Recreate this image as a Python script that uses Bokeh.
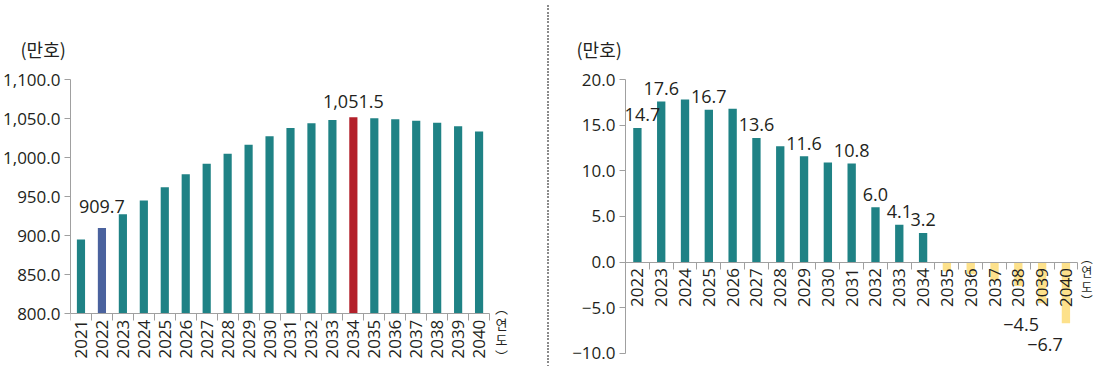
import math
from bokeh.plotting import figure
from bokeh.models import (FixedTicker, Range1d, Label, LabelSet, Title, Div, ColumnDataSource)
from bokeh.layouts import row
from bokeh.embed import file_html
from bokeh.resources import INLINE
from bokeh.core.properties import value

# ---------------- data ----------------
years_total = list(range(2021, 2041))
households = [895.0, 909.7, 927.3, 945.1, 961.8, 978.5, 992.1, 1004.8, 1016.4, 1027.2,
              1038.0, 1044.0, 1048.1, 1051.5, 1050.5, 1049.2, 1047.2, 1044.6, 1040.1, 1033.4]
left_label_years = [2022, 2034]

years_change = list(range(2022, 2041))
change = [14.7, 17.6, 17.8, 16.7, 16.8, 13.6, 12.7, 11.6, 10.9, 10.8,
          6.0, 4.1, 3.2, -1.0, -1.3, -2.0, -2.6, -4.5, -6.7]
right_label_years = [2022, 2023, 2025, 2027, 2029, 2031, 2032, 2033, 2034, 2039, 2040]

left_ticks = [800, 850, 900, 950, 1000, 1050, 1100]
left_tick_labels = ["800.0", "850.0", "900.0", "950.0", "1,000.0", "1,050.0", "1,100.0"]
right_ticks = [-10, -5, 0, 5, 10, 15, 20]
right_tick_labels = ["\u221210.0", "\u22125.0", "0.0", "5.0", "10.0", "15.0", "20.0"]

unit_label = "(만호)"
year_label = "\ufe35\n연\n도\n\ufe36"   # "(연도)" set vertically

# ---------------- styles / layout ----------------
TEAL = "#1f8285"
BLUE = "#4a629e"
RED = "#b3202a"
YELLOW = "#fde18b"
AXIS = "#a0a0a0"
TXT = "#231f20"
NUMFONT = "Open Sans"
KFONT = "Noto Sans CJK KR"
highlight = {2022: BLUE, 2034: RED}
H = 364
BORDER_TOP = 79
BORDER_BOTTOM = 4
LEFT_FLOOR = 740      # visible range extends below the axis to hold the year labels
RIGHT_FLOOR = -10.77
LEFT_XPAD = 1.0       # extra room right of the last category for the unit label
RIGHT_XPAD = 0.7


def fmt(v):
    s = "{:,.1f}".format(abs(v))
    return ("\u2212" + s) if v < 0 else s


def style_axes(p):
    p.xgrid.visible = False
    p.ygrid.visible = False
    p.outline_line_color = None
    for ax in (p.xaxis[0], p.yaxis[0]):
        ax.axis_line_color = AXIS
        ax.major_tick_line_color = AXIS
        ax.minor_tick_line_color = AXIS
        ax.major_label_text_font = NUMFONT
        ax.major_label_text_font_size = "17px"
        ax.major_label_text_color = TXT
    p.yaxis.major_tick_out = 6
    p.yaxis.major_tick_in = 0
    p.yaxis.minor_tick_out = 0
    p.yaxis.minor_tick_in = 0
    p.yaxis.major_label_standoff = 4
    p.xaxis.major_tick_out = 0
    p.xaxis.major_tick_in = 0
    p.xaxis.minor_tick_out = 7
    p.xaxis.minor_tick_in = 0
    p.xaxis.major_label_standoff = 0


def unit_title(offset):
    return Title(text=unit_label, align="left", offset=offset, text_font=KFONT, text_font_size="18px",
                 text_font_style="normal", text_color=TXT, standoff=36)


def year_labels(p, years, base, yoff):
    src = ColumnDataSource(dict(x=years, y=[base] * len(years), t=[str(y) for y in years]))
    p.add_layout(LabelSet(x="x", y="y", text="t", source=src, y_offset=yoff, angle=math.pi / 2,
                          text_align="right", text_baseline="middle", text_font=value(NUMFONT),
                          text_font_size=value("17px"), text_color=TXT))


def vertical_unit(x, y, xoff, yoff, size):
    return Label(x=x, y=y, x_offset=xoff, y_offset=yoff, text=year_label,
                 text_align="center", text_baseline="middle", text_font=KFONT,
                 text_font_size=size, text_line_height=0.85, text_color=TXT)


def boundaries(years):
    return [y - 0.5 for y in years] + [years[-1] + 0.5]


# ---------------- left chart ----------------
x0, x1 = years_total[0] - 0.5, years_total[-1] + 0.5
p1 = figure(width=542, height=H, x_range=Range1d(x0, x1 + LEFT_XPAD), y_range=Range1d(LEFT_FLOOR, 1100),
            output_backend="svg", toolbar_location=None,
            min_border_left=65, min_border_right=32, min_border_top=BORDER_TOP, min_border_bottom=BORDER_BOTTOM)
colors1 = [highlight.get(y, TEAL) for y in years_total]
p1.vbar(x=years_total, top=households, bottom=left_ticks[0], width=0.39, fill_color=colors1, line_color=None)
style_axes(p1)
p1.xaxis.fixed_location = left_ticks[0]
p1.xaxis.bounds = (x0, x1)
p1.xaxis.ticker = FixedTicker(ticks=[], minor_ticks=boundaries(years_total))
p1.yaxis.ticker = FixedTicker(ticks=left_ticks)
p1.yaxis.bounds = (left_ticks[0], left_ticks[-1])
p1.yaxis.major_label_overrides = {t: l for t, l in zip(left_ticks, left_tick_labels)}
year_labels(p1, years_total, left_ticks[0], -6)

ly = [households[years_total.index(y)] for y in left_label_years]
src1 = ColumnDataSource(dict(x=left_label_years, y=ly, t=[fmt(v) for v in ly], yo=[22, 16]))
p1.add_layout(LabelSet(x="x", y="y", text="t", source=src1, y_offset="yo", text_align="center",
                       text_baseline="middle", text_font=value(NUMFONT), text_font_size=value("18px"),
                       text_color=TXT))

p1.add_layout(unit_title(-50), "above")
p1.add_layout(vertical_unit(x1, left_ticks[0], 12, -18, "13px"))

# ---------------- divider ----------------
div = Div(width=2, height=H, styles={
    "background-image": "repeating-linear-gradient(to bottom, #8a8a8a 0px, #8a8a8a 2px, transparent 2px, transparent 3.3px)"})

# ---------------- right chart ----------------
r0, r1 = years_change[0] - 0.5, years_change[-1] + 0.5
p2 = figure(width=541, height=H, x_range=Range1d(r0, r1 + RIGHT_XPAD), y_range=Range1d(RIGHT_FLOOR, 20),
            output_backend="svg", toolbar_location=None,
            min_border_left=71, min_border_right=1, min_border_top=BORDER_TOP, min_border_bottom=BORDER_BOTTOM)
colors2 = [TEAL if v >= 0 else YELLOW for v in change]
p2.vbar(x=years_change, top=change, bottom=0, width=0.35, fill_color=colors2, line_color=None)
style_axes(p2)
p2.xaxis.fixed_location = 0
p2.xaxis.bounds = (r0, r1)
p2.xaxis.ticker = FixedTicker(ticks=[], minor_ticks=boundaries(years_change))
p2.yaxis.ticker = FixedTicker(ticks=right_ticks)
p2.yaxis.bounds = (right_ticks[0], right_ticks[-1])
p2.yaxis.major_label_overrides = {t: l for t, l in zip(right_ticks, right_tick_labels)}
year_labels(p2, years_change, 0, -6)

ry = [change[years_change.index(y)] for y in right_label_years]
rxo = [5 if y == 2022 else (-21 if v < 0 else 0) for y, v in zip(right_label_years, ry)]
ryo = [-21 if v < 0 else 13 for v in ry]
src2 = ColumnDataSource(dict(x=right_label_years, y=ry, t=[fmt(v) for v in ry], xo=rxo, yo=ryo))
p2.add_layout(LabelSet(x="x", y="y", text="t", source=src2, x_offset="xo", y_offset="yo",
                       text_align="center", text_baseline="middle", text_font=value(NUMFONT),
                       text_font_size=value("18px"), text_color=TXT))

p2.add_layout(unit_title(-49), "above")
p2.add_layout(vertical_unit(r1, 0, 9, -17, "12px"))

layout = row(p1, div, p2)
open("out.html", "w").write(file_html(layout, INLINE))
